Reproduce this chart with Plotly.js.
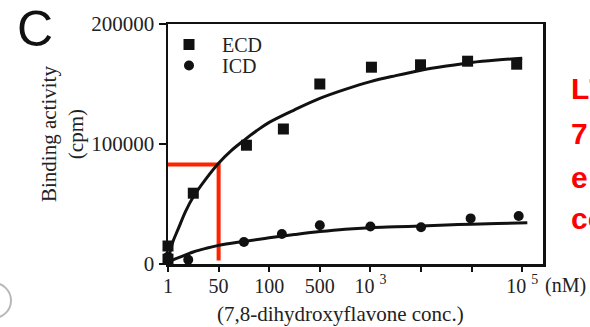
<!DOCTYPE html>
<html>
<head>
<meta charset="utf-8">
<script src="https://cdn.plot.ly/plotly-3.0.1.min.js"></script>
<style>
  html, body { margin: 0; padding: 0; background: #fff; }
  #chart { width: 590px; height: 327px; }
</style>
</head>
<body>
<div id="chart"></div>
<script>
// Labelled tick positions (evenly spaced concentration steps) and their labels
const tickPositions = [0, 1, 2, 3, 4, 7];
const tickLabels = ['1', '50', '100', '500', '10 <sup>3</sup>', '10 <sup>5</sup>'];
// Unlabelled tick positions
const blankTickPositions = [5, 6];

// ECD measured binding (cpm)
const ecdX = [0, 0, 0.5, 1.55, 2.28, 3.0, 4.02, 4.99, 5.92, 6.89];
const ecdY = [15000, 4000, 59000, 99000, 112500, 150000, 164000, 166000, 169000, 166500];

// ICD measured binding (cpm)
const icdX = [0, 0.4, 1.5, 2.25, 3.0, 4.0, 5.0, 5.98, 6.93];
const icdY = [6000, 3500, 18300, 25000, 32300, 31200, 30600, 38000, 40000];

// Fitted curves
const ecdFitX = [0, 0.05, 0.1, 0.2, 0.35, 0.5, 0.75, 1.0, 1.25, 1.5, 1.75, 2.0, 2.5, 3.0, 3.5, 4.0, 4.5, 5.0, 5.5, 6.0, 6.5, 7.0];
const ecdFitY = [2000, 12000, 19000, 29000, 44000, 56000, 71000, 84000, 94500, 103000, 111000, 118000, 128500, 138000, 145500, 152000, 157000, 161500, 165000, 168000, 170000, 171500];
const icdFitX = [0, 0.1, 0.25, 0.5, 0.75, 1.0, 1.5, 2.0, 2.5, 3.0, 3.5, 4.0, 4.5, 5.0, 5.5, 6.0, 6.5, 7.1];
const icdFitY = [1500, 3500, 6000, 10000, 13000, 15500, 18800, 21800, 24500, 27000, 29000, 30300, 31000, 31700, 32500, 33200, 33800, 34400];

// Red guide at half-maximal binding
const guideX = [0, 1, 1];
const guideY = [83000, 83000, 3000];

const serif = 'Liberation Serif, Times New Roman, serif';
const sans = 'Liberation Sans, Arial, sans-serif';

const traces = [
  { x: guideX, y: guideY, mode: 'lines', line: { color: '#ff2200', width: 4 },
    showlegend: false, hoverinfo: 'skip', cliponaxis: false },
  { x: ecdFitX, y: ecdFitY, mode: 'lines', line: { color: '#111', width: 3, shape: 'spline' },
    showlegend: false, cliponaxis: false },
  { x: icdFitX, y: icdFitY, mode: 'lines', line: { color: '#111', width: 3, shape: 'spline' },
    showlegend: false, cliponaxis: false },
  { x: ecdX, y: ecdY, mode: 'markers', name: 'ECD', legend: 'legend',
    marker: { symbol: 'square', size: 11, color: '#111' }, cliponaxis: false },
  { x: icdX, y: icdY, mode: 'markers', name: 'ICD', legend: 'legend2',
    marker: { symbol: 'circle', size: 10, color: '#111' }, cliponaxis: false }
];

// plot area in pixels: left 168, right 543, top 24, bottom 264
const L = 168, R = 543, T = 24, B = 264;
const px = v => (v - L) / (R - L);
const py = v => (B - v) / (B - T);

const legendBase = {
  xanchor: 'left', yanchor: 'top',
  bgcolor: 'rgba(0,0,0,0)', borderwidth: 0,
  font: { family: serif, size: 20, color: '#222' },
  itemwidth: 56
};

const redFont = { family: sans, size: 30, color: '#ff0000' };

const layout = {
  width: 590, height: 327,
  margin: { l: L, r: 590 - R, t: T, b: 327 - B, pad: 0 },
  paper_bgcolor: '#fff', plot_bgcolor: '#fff',
  font: { family: serif, size: 20, color: '#222' },
  showlegend: true,
  legend: Object.assign({}, legendBase, { x: px(156), y: py(25) }),
  legend2: Object.assign({}, legendBase, { x: px(156), y: py(46) }),
  xaxis: {
    range: [0, 7.41], tickmode: 'array', tickvals: tickPositions, ticktext: tickLabels,
    showline: true, linecolor: '#111', linewidth: 2.5, mirror: true,
    ticks: 'outside', ticklen: 5, tickwidth: 2, tickcolor: '#111',
    ticklabelstandoff: -3,
    minor: { tickmode: 'array', tickvals: blankTickPositions, ticks: 'outside',
             ticklen: 5, tickwidth: 2, tickcolor: '#111', showgrid: false },
    showgrid: false, zeroline: false, fixedrange: true,
    tickfont: { family: serif, size: 20, color: '#222' }
  },
  yaxis: {
    range: [0, 200000], tickmode: 'array', tickvals: [0, 100000, 200000],
    ticktext: ['0', '100000', '200000'],
    showline: true, linecolor: '#111', linewidth: 2.5, mirror: true,
    ticks: 'outside', ticklen: 7, tickwidth: 2, tickcolor: '#111',
    showgrid: false, zeroline: false, fixedrange: true,
    tickfont: { family: serif, size: 21, color: '#222' }
  },
  annotations: [
    { text: 'C', xref: 'paper', yref: 'paper', x: px(35), y: py(29), showarrow: false,
      xanchor: 'center', yanchor: 'middle',
      font: { family: sans, size: 50, color: '#111' } },
    { text: 'Binding activity<br>(cpm)', xref: 'paper', yref: 'paper', x: px(62), y: py(134),
      showarrow: false, textangle: -90, xanchor: 'center', yanchor: 'middle',
      font: { family: serif, size: 21, color: '#222' } },
    { text: '(7,8-dihydroxyflavone conc.)', xref: 'paper', yref: 'paper', x: px(340), y: py(314),
      showarrow: false, xanchor: 'center', yanchor: 'middle',
      font: { family: serif, size: 21, color: '#222' } },
    { text: '(nM)', xref: 'paper', yref: 'paper', x: px(543), y: py(285),
      showarrow: false, xanchor: 'left', yanchor: 'middle',
      font: { family: serif, size: 20, color: '#222' } },
    { text: '<b>L’</b>', xref: 'paper', yref: 'paper', x: px(569), y: py(88),
      showarrow: false, xanchor: 'left', yanchor: 'middle', font: redFont },
    { text: '<b>7</b>', xref: 'paper', yref: 'paper', x: px(569), y: py(133),
      showarrow: false, xanchor: 'left', yanchor: 'middle', font: redFont },
    { text: '<b>e</b>', xref: 'paper', yref: 'paper', x: px(569), y: py(177),
      showarrow: false, xanchor: 'left', yanchor: 'middle', font: redFont },
    { text: '<b>co</b>', xref: 'paper', yref: 'paper', x: px(569), y: py(218),
      showarrow: false, xanchor: 'left', yanchor: 'middle', font: redFont }
  ],
  shapes: [
    { type: 'circle', xref: 'paper', yref: 'paper',
      x0: px(-24), x1: px(11), y0: py(283), y1: py(318),
      line: { color: '#b8b8b8', width: 2 }, fillcolor: 'rgba(0,0,0,0)' }
  ]
};

Plotly.newPlot('chart', traces, layout, { displayModeBar: false, staticPlot: true });
</script>
</body>
</html>
